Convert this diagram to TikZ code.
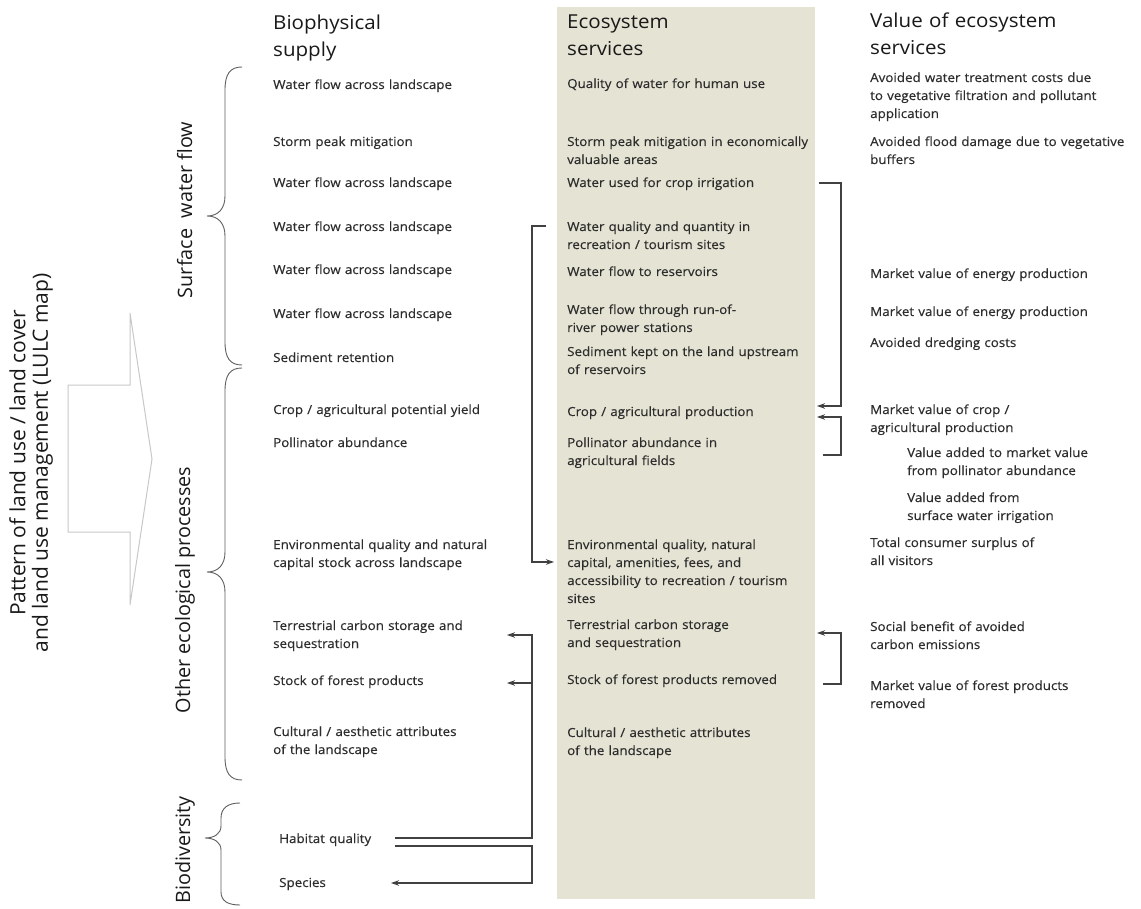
\documentclass[tikz,border=0pt]{standalone}
\usepackage{fontspec}
\setmainfont{Open Sans}
\newfontfamily\bodyfont[FakeStretch=1.07,FakeBold=0.3]{Open Sans}
\newfontfamily\headfont[FakeStretch=1.07]{Open Sans}
\usetikzlibrary{arrows.meta}
\definecolor{boxc}{RGB}{229,228,212}
\definecolor{txtc}{RGB}{45,45,45}
\definecolor{headc}{RGB}{25,25,25}
\definecolor{linec}{RGB}{65,65,65}
\definecolor{arrc}{RGB}{200,200,200}
\tikzset{
  txt/.style={font=\bodyfont\fontsize{12.5}{18}\selectfont, text=txtc, align=left, inner sep=0pt, anchor=base west, text width=300pt},
  head/.style={font=\headfont\fontsize{19.2}{27}\selectfont, text=headc, align=left, inner sep=0pt, anchor=base west, text width=260pt},
  vlab/.style={font=\fontsize{19.8}{22}\selectfont, text=headc, inner sep=0pt, rotate=90, anchor=base},
  bracec/.style={draw=linec!85, line width=0.9pt},
  conn/.style={draw=linec, line width=1.1pt},
  tip/.style={-{Stealth[length=8pt,width=5.5pt]}},
}
\begin{document}
\begin{tikzpicture}[x=1pt,y=-1pt]
\useasboundingbox (0,0) rectangle (1141,909);
\fill[white] (0,0) rectangle (1141,909);
% shaded column
\fill[boxc] (557,7) rectangle (815,899);

% big arrow
\draw[arrc, line width=1pt, line join=miter] (68,385) -- (130,385) -- (130,313) -- (152,459) -- (130,605) -- (130,532) -- (68,532) -- cycle;

% vertical labels
\node[vlab, font=\fontsize{21}{22.5}\selectfont, align=center, anchor=center] (lulc) at (31,463) {Pattern of land use / land cover\\and land use management (LULC map)};
\node[vlab] (lsw) at (192,210) {Surface~~water flow};
\node[vlab] (loe) at (190,590) {Other ecological processes};
\node[vlab] (lbd) at (190,850) {Biodiversity};

% braces
\draw[bracec] (242,67) .. controls (230,67) and (225,74) .. (225,90) -- (225,196) .. controls (225,209) and (218,216) .. (207,216) .. controls (218,216) and (225,223) .. (225,236) -- (225,342) .. controls (225,358) and (230,365) .. (242,365);
\draw[bracec] (242,368) .. controls (230,368) and (225,375) .. (225,391) -- (225,552) .. controls (225,565) and (218,572) .. (207,572) .. controls (218,572) and (225,579) .. (225,592) -- (225,757) .. controls (225,773) and (230,780) .. (242,780);
\draw[bracec] (240,803) .. controls (228,803) and (221,808) .. (221,818) -- (221,826) .. controls (221,834) and (214,838) .. (205,838) .. controls (214,838) and (221,842) .. (221,850) -- (221,892) .. controls (221,901) and (228,905) .. (240,905);

% headers
\node[head] (hb) at (273,30) {Biophysical\\supply};
\node[head] (he) at (567,29) {Ecosystem\\services};
\node[head] (hv) at (870,28) {Value of ecosystem\\services};

% biophysical supply
\node[txt] (b1) at (273,89) {Water flow across landscape};
\node[txt] (b2) at (273,146) {Storm peak mitigation};
\node[txt] (b3) at (273,187) {Water flow across landscape};
\node[txt] (b4) at (273,231) {Water flow across landscape};
\node[txt] (b5) at (273,274) {Water flow across landscape};
\node[txt] (b6) at (273,318) {Water flow across landscape};
\node[txt] (b7) at (273,362) {Sediment retention};
\node[txt] (b8) at (273,414) {Crop / agricultural potential yield};
\node[txt] (b9) at (273,447) {Pollinator abundance};
\node[txt] (b10) at (273,549) {Environmental quality and natural\\capital stock across landscape};
\node[txt] (b11) at (273,630) {Terrestrial carbon storage and\\sequestration};
\node[txt] (b12) at (273,685) {Stock of forest products};
\node[txt] (b13) at (273,736) {Cultural / aesthetic attributes\\of the landscape};
\node[txt] (b14) at (279,843) {Habitat quality};
\node[txt] (b15) at (279,887) {Species};

% ecosystem services
\node[txt] (e1) at (567,88) {Quality of water for human use};
\node[txt] (e2) at (567,146) {Storm peak mitigation in economically\\valuable areas};
\node[txt] (e3) at (567,187) {Water used for crop irrigation};
\node[txt] (e4) at (567,231) {Water quality and quantity in\\recreation / tourism sites};
\node[txt] (e5) at (567,276) {Water flow to reservoirs};
\node[txt] (e6) at (567,314) {Water flow through run-of-\\river power stations};
\node[txt] (e7) at (567,356) {Sediment kept on the land upstream\\of reservoirs};
\node[txt] (e8) at (567,416) {Crop / agricultural production};
\node[txt] (e9) at (567,447) {Pollinator abundance in\\agricultural fields};
\node[txt] (e10) at (567,549) {Environmental quality, natural\\capital, amenities, fees, and\\accessibility to recreation / tourism\\sites};
\node[txt] (e11) at (567,629) {Terrestrial carbon storage\\and sequestration};
\node[txt] (e12) at (567,684) {Stock of forest products removed};
\node[txt] (e13) at (567,737) {Cultural / aesthetic attributes\\of the landscape};

% values
\node[txt] (v1) at (870,82) {Avoided water treatment costs due\\to vegetative filtration and pollutant\\application};
\node[txt] (v2) at (870,146) {Avoided flood damage due to vegetative\\buffers};
\node[txt] (v3) at (870,278) {Market value of energy production};
\node[txt] (v4) at (870,316) {Market value of energy production};
\node[txt] (v5) at (870,347) {Avoided dredging costs};
\node[txt] (v6) at (870,414) {Market value of crop /\\agricultural production};
\node[txt] (v7) at (907,457) {Value added to market value\\from pollinator abundance};
\node[txt] (v8) at (907,502) {Value added from\\surface water irrigation};
\node[txt] (v9) at (870,547) {Total consumer surplus of\\all visitors};
\node[txt] (v10) at (870,631) {Social benefit of avoided\\carbon emissions};
\node[txt] (v11) at (870,690) {Market value of forest products\\removed};

% connector points
\coordinate (a0) at (819,183); \coordinate (a1) at (841,183); \coordinate (a2) at (841,406); \coordinate (a3) at (817,406);
\coordinate (p0) at (823,455); \coordinate (p1) at (841,455); \coordinate (p2) at (841,417); \coordinate (p3) at (817,417);
\coordinate (c0) at (546,226); \coordinate (c1) at (532,226); \coordinate (c2) at (532,562); \coordinate (c3) at (554,562);
\coordinate (d0) at (395,838); \coordinate (d1) at (532,838); \coordinate (d2) at (532,635); \coordinate (d3) at (507,635);
\coordinate (d4) at (532,683); \coordinate (d5) at (507,683);
\coordinate (f0) at (395,846); \coordinate (f1) at (532,846); \coordinate (f2) at (532,883); \coordinate (f3) at (391,883);
\coordinate (g0) at (823,684); \coordinate (g1) at (841,684); \coordinate (g2) at (841,633); \coordinate (g3) at (817,633);

\draw[conn, tip] (a0) -- (a1) -- (a2) -- (a3);
\draw[conn, tip] (p0) -- (p1) -- (p2) -- (p3);
\draw[conn, tip] (c0) -- (c1) -- (c2) -- (c3);
\draw[conn, tip] (d0) -- (d1) -- (d2) -- (d3);
\draw[conn, tip] (d4) -- (d5);
\draw[conn, tip] (f0) -- (f1) -- (f2) -- (f3);
\draw[conn, tip] (g0) -- (g1) -- (g2) -- (g3);
\end{tikzpicture}
\end{document}
